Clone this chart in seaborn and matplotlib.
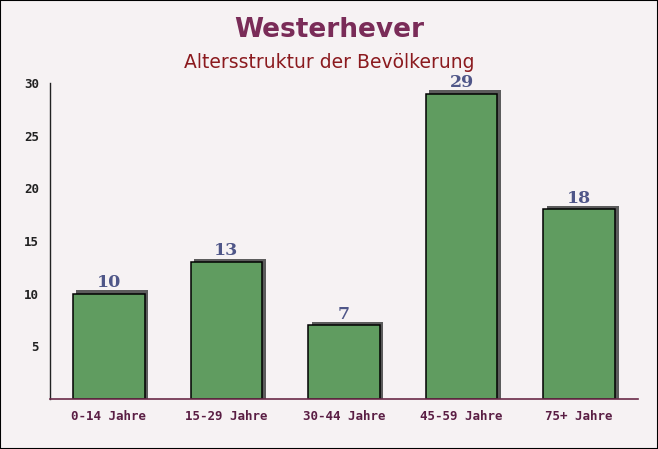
import matplotlib
matplotlib.use("Agg")
import matplotlib.pyplot as plt
import matplotlib.transforms as mtransforms
from matplotlib.ticker import MultipleLocator, FixedLocator
import seaborn as sns
import pandas as pd

categories = ["0-14 Jahre", "15-29 Jahre", "30-44 Jahre", "45-59 Jahre", "75+ Jahre"]
values = [10, 13, 7, 29, 18]
yticks = [5, 10, 15, 20, 25, 30]

df = pd.DataFrame({"cat": categories, "val": values})

sns.set_style("white")
fig = plt.figure(figsize=(6.58, 4.49), dpi=100)
fig.patch.set_facecolor("#f6f2f3")
ax = fig.add_axes([50/658, 50/449, 588/658, 316/449])
ax.set_facecolor("none")

# shadow bars
sns.barplot(data=df, x="cat", y="val", ax=ax, color="#5c5c5c", width=0.61,
            saturation=1, edgecolor="none", linewidth=0)
n_shadow = len(ax.patches)
shift_px = 3.5
off = mtransforms.ScaledTranslation(shift_px/100, shift_px/100, fig.dpi_scale_trans)
dy = shift_px / 316 * 30
for p in ax.patches[:n_shadow]:
    p.set_y(p.get_y() - dy)
    p.set_height(p.get_height() + dy)
    p.set_transform(ax.transData + off)
    p.set_zorder(1)

# main bars
sns.barplot(data=df, x="cat", y="val", ax=ax, color="#609c60", width=0.61,
            saturation=1, edgecolor="black", linewidth=1.1)
for p in ax.patches[n_shadow:]:
    p.set_zorder(2)

for i, v in enumerate(values):
    ax.annotate(str(v), (i, v), xytext=(0, 8), textcoords="offset points",
                ha="center", va="center", fontsize=12.5, fontweight="bold",
                family="DejaVu Serif", color="#4f5688", zorder=5)

ax.set_xlim(-0.5, 4.5)
ax.set_ylim(0, 30)
ax.set_xlabel("")
ax.set_ylabel("")
ax.yaxis.set_major_locator(FixedLocator(yticks))
ax.yaxis.set_minor_locator(MultipleLocator(1))
ax.xaxis.set_minor_locator(FixedLocator([0.5, 1.5, 2.5, 3.5, 4.5]))

for s in ["top", "right"]:
    ax.spines[s].set_visible(False)
ax.spines["left"].set_color("#222222")
ax.spines["bottom"].set_color("#6a2a48")
ax.spines["left"].set_linewidth(1)
ax.spines["bottom"].set_linewidth(1.2)
ax.spines["bottom"].set_zorder(3)

ax.tick_params(axis="y", which="major", direction="in", length=5, color="#222222",
               labelsize=9, labelcolor="#222222", pad=8)
ax.tick_params(axis="y", which="minor", direction="in", length=3, color="#222222")
ax.tick_params(axis="x", which="major", length=0, pad=8, labelsize=9, labelcolor="#5a1e44")
ax.tick_params(axis="x", which="minor", direction="in", length=4, color="#6a2a48")
for lab in ax.get_xticklabels() + ax.get_yticklabels():
    lab.set_family("DejaVu Sans Mono")
    lab.set_fontweight("bold")

fig.text(0.5, 1 - 30/449, "Westerhever", ha="center", va="center",
         fontsize=19, fontweight="bold", color="#7a2c58")
fig.text(0.5, 1 - 62/449, "Altersstruktur der Bevölkerung", ha="center", va="center",
         fontsize=13.5, color="#8b1a1e")

border = plt.Rectangle((0, 0), 1, 1, transform=fig.transFigure, fill=False,
                       edgecolor="black", linewidth=1.5)
fig.patches.append(border)

fig.savefig("out.png", dpi=100, facecolor=fig.get_facecolor())
